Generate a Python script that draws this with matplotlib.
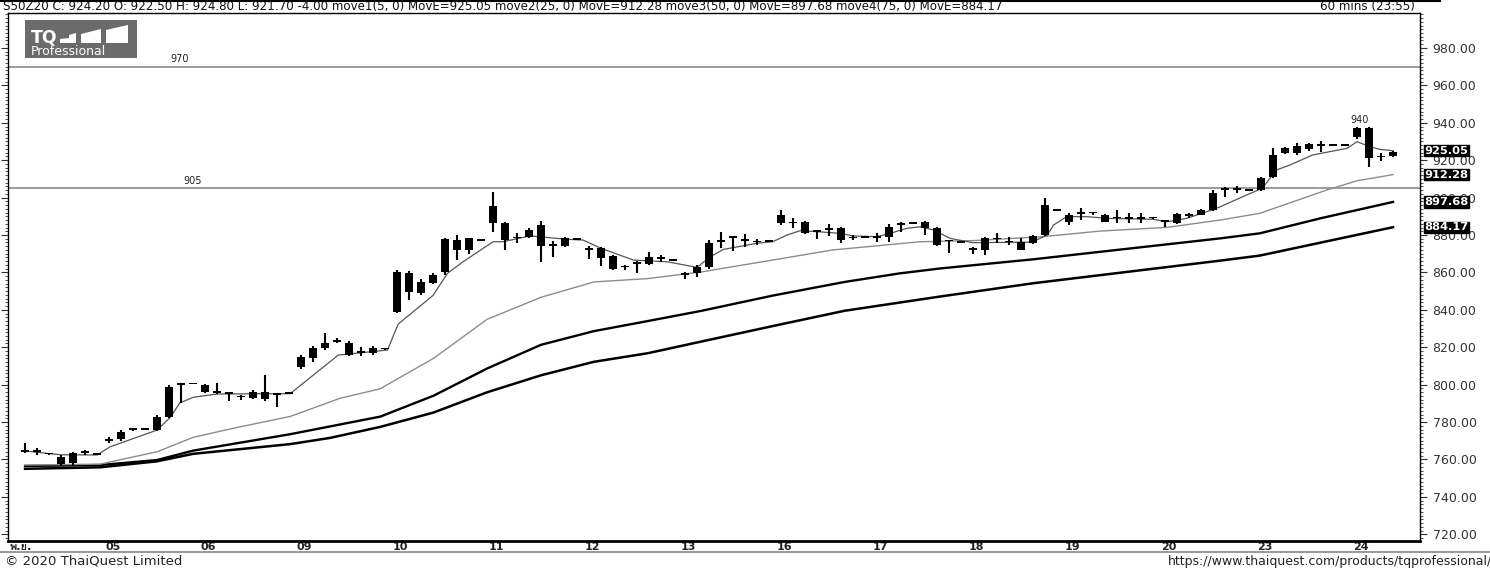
import matplotlib
matplotlib.use("Agg")
import matplotlib.pyplot as plt
import matplotlib.transforms as mtransforms
from matplotlib import font_manager
from matplotlib.ft2font import FT2Font
from matplotlib.patches import Rectangle, Polygon
from matplotlib.lines import Line2D
from matplotlib.ticker import MultipleLocator, FormatStrFormatter

# ---- data: S50Z20, 60 min bars, bar 0 = first visible bar on 04 Nov ----
opens = [765, 764.5, 763.2, 761.5, 758, 763.6, 762.5, 770, 770.7, 775.8,
         776, 775.7, 782.5, 800.3, 800.3, 799.8, 796, 795.5, 793.5, 792.7,
         792.1, 795, 795, 809.6, 814.1, 819.4, 823, 822, 817.5, 816.7,
         818.9, 839.0, 859.5, 848.8, 854.2, 860.4, 877.3, 872.0, 876.8, 886.3,
         886.6, 878.5, 879.1, 885.3, 874.5, 874.1, 877.3, 872.3, 872.9, 868.8,
         862.7, 864.5, 864.5, 867.2, 866.1, 858.6, 859.5, 862.7, 876.4, 878.6,
         877.0, 876.1, 876.4, 886.3, 886.3, 887.1, 881.8, 882.7, 883.6, 878.2,
         878.6, 878.6, 879.1, 885.3, 886.1, 887.1, 883.6, 876.8, 875.8, 872.0,
         872.0, 877.7, 876.1, 876.4, 875.6, 880.0, 893.0, 886.8, 891.2, 891.6,
         890.7, 888.9, 888.6, 888.6, 888.9, 887.1, 886.3, 890.3, 890.7, 893.4,
         904.1, 904.1, 903.7, 904.1, 911.2, 924.0, 923.7, 925.8, 927.6, 927.6,
         927.6, 932.2, 937.1, 921.6, 922.5]
highs = [769, 766, 763.6, 762.4, 764, 765, 762.6, 771.8, 775.5, 777,
         776.3, 783.7, 799.8, 800.5, 800.4, 800.2, 800.7, 796, 794.5, 797,
         805.1, 795.5, 795.2, 815.8, 820.6, 827.8, 824.8, 823.3, 820.3, 820.6,
         819.1, 861.3, 860.5, 856.3, 859.5, 878.2, 880.0, 878.5, 877, 903.2,
         887.1, 881.2, 883.6, 887.6, 876.8, 878.8, 877.5, 874.1, 873.5, 869.3,
         864.0, 866.3, 871.1, 869.3, 866.3, 860.4, 864.0, 877.3, 881.8, 879.1,
         880.4, 877.7, 876.6, 893.4, 888.9, 887.6, 882.0, 885.7, 884.4, 880.0,
         878.8, 880.9, 885.7, 887.1, 886.3, 887.6, 884.4, 877.0, 876.0, 873.8,
         879.1, 881.2, 879.1, 878.2, 880.0, 899.6, 893.2, 891.6, 894.3, 892.5,
         891.5, 893.4, 891.6, 891.6, 889.1, 888.0, 891.9, 891.9, 893.8, 904.1,
         905.5, 906.2, 903.9, 911.2, 926.4, 927.2, 929.4, 929.4, 930.3, 927.8,
         927.8, 937.6, 937.6, 924.0, 924.8]
lows = [763.5, 762.5, 762.5, 756.5, 756.5, 762.4, 762.3, 768.6, 770, 775,
        775.8, 775, 782, 790.3, 800.1, 795.5, 794.8, 791.4, 792, 792.3,
        791.5, 788.2, 794.8, 808.2, 812.0, 818.5, 822, 815.3, 815.3, 815.8,
        818.7, 838.5, 845.2, 847.9, 853.8, 858.6, 866.6, 869.8, 876.6, 881.8,
        872.0, 875.6, 878.5, 865.7, 868.1, 873.5, 877.1, 867.0, 863.4, 861.3,
        861.3, 859.5, 864.0, 865.7, 865.9, 856.3, 857.4, 861.8, 872.9, 871.6,
        873.4, 874.7, 876.2, 885.3, 883.6, 880.5, 877.7, 879.5, 875.9, 877.3,
        878.4, 876.4, 876.4, 881.8, 885.9, 880.0, 874.1, 870.5, 875.6, 869.8,
        869.3, 875.6, 874.7, 872.0, 875.0, 879.5, 892.8, 885.3, 888.0, 890.5,
        887.1, 886.6, 886.6, 886.6, 888.7, 884.4, 886.0, 889.0, 890.5, 893.0,
        900.5, 902.6, 903.5, 903.7, 910.3, 923.3, 923.0, 925.0, 924.5, 927.4,
        927.4, 931.5, 916.5, 919.7, 921.7]
closes = [764, 764, 762.8, 757.5, 763.6, 763.8, 762.4, 770.6, 774.8, 776.3,
          776.1, 782.5, 798.6, 800, 800.2, 795.9, 795.5, 795, 793.2, 795.9,
          796.2, 794.6, 795, 814.9, 819.4, 822.4, 823.3, 815.8, 817.1, 819.7,
          818.9, 860.4, 849.7, 855.0, 858.6, 877.7, 872.0, 878.2, 876.8, 895.5,
          877.3, 878.2, 882.7, 874.1, 874.1, 878.2, 877.3, 872.0, 867.5, 861.7,
          862.9, 864.7, 868.4, 867.4, 866.1, 858.8, 863.1, 875.6, 876.6, 878.4,
          877.2, 876.3, 876.4, 890.7, 886.5, 881.2, 881.6, 882.9, 877.3, 878.4,
          878.6, 878.8, 884.4, 885.5, 886.1, 883.6, 874.7, 876.6, 875.8, 872.2,
          878.2, 877.9, 876.3, 872.0, 879.5, 896.0, 893.0, 890.7, 891.4, 891.8,
          887.1, 889.1, 888.8, 888.8, 888.9, 887.3, 891.1, 890.5, 893.4, 902.3,
          904.3, 904.3, 903.7, 910.3, 922.8, 926.7, 927.6, 928.5, 927.8, 927.6,
          927.6, 937.1, 921.0, 921.8, 924.2]

# moving averages (bar position, value)
ma5_pos = [0, 3, 6, 7.1, 11, 12.1, 12.9, 14, 16, 22.1, 26.1, 30.2, 31.1, 34,
           35.2, 36.5, 39, 39.8, 42.1, 45.2, 46.5, 48, 50.7, 53.5, 56, 57.1,
           58.2, 61, 62.3, 63.5, 64.6, 66, 67.9, 69, 71, 72.1, 73.5, 74.6,
           75.7, 77.1, 79, 83.9, 85.2, 85.7, 86.8, 88.5, 90.2, 94, 95.2, 96.8,
           98.5, 99.6, 101.8, 103.1, 104.3, 105.4, 107.3, 110.2, 111, 112.1,
           112.9, 114]
ma5_val = [764.5, 762.5, 762.4, 766.8, 775.7, 782.5, 790.2, 793.2, 795.0,
           795.2, 815.8, 818.5, 832.4, 847.7, 859.5, 865.7, 876.4, 876.4,
           879.5, 877.7, 877.3, 872.9, 866.6, 865.7, 862.7, 868.4, 872.3,
           875.6, 876.4, 880.0, 882.3, 881.8, 880.9, 879.5, 879.1, 880.9,
           883.6, 884.4, 882.7, 878.2, 875.9, 876.2, 880.0, 885.3, 889.8,
           889.8, 888.9, 888.4, 887.1, 888.9, 892.5, 895.1, 901.4, 905.0,
           914.8, 917.4, 922.8, 926.4, 929.9, 927.2, 925.8, 925.05]
ma25_pos = [0, 6.25, 11, 14, 17.3, 22.1, 26.25, 29.6, 34.05, 38.5, 43, 47.4,
            51.9, 56.4, 62.3, 67.3, 74.6, 79, 84.8, 89.6, 95.2, 99.6, 102.9,
            108.5, 111, 114]
ma25_val = [757.0, 757.5, 764.1, 771.8, 776.6, 783.0, 792.7, 797.8, 814.1,
            834.9, 846.7, 854.9, 856.7, 860.3, 866.6, 872.0, 876.4, 877.0,
            879.1, 882.1, 884.1, 888.0, 891.6, 904.1, 909.0, 912.28]
ma50_pos = [0, 6.25, 11, 14, 22.1, 29.6, 34.05, 38.5, 43, 47.4, 51.9, 56.4,
            62.3, 68.3, 72.9, 76.25, 84, 99.6, 102.9, 108, 114]
ma50_val = [756.5, 757.0, 759.7, 764.7, 773.5, 782.9, 794.1, 808.6, 821.3,
            828.6, 834.0, 839.5, 847.6, 854.9, 859.5, 862.1, 867.0, 878.2,
            880.9, 889.0, 897.68]
ma75_pos = [0, 6.25, 11, 14, 22.1, 25.4, 29.6, 34.05, 38.5, 43, 47.4, 51.9,
            56.4, 62.3, 68.3, 76.25, 84, 99.6, 102.9, 114]
ma75_val = [755.0, 755.8, 759.0, 763.0, 768.2, 771.5, 777.4, 785.1, 795.9,
            805.0, 812.2, 816.8, 823.1, 831.3, 839.5, 847.1, 854.2, 866.3,
            869.0, 884.17]

day_labels = ["พ.ย.", "05", "06", "09", "10", "11", "12", "13", "16", "17",
              "18", "19", "20", "23", "24"]
levels = [970, 905]
last_ma_val = [925.05, 912.28, 897.68, 884.17]

header = ("S50Z20 C: 924.20 O: 922.50 H: 924.80 L: 921.70 -4.00 move1(5, 0) "
          "MovE=925.05 move2(25, 0) MovE=912.28 move3(50, 0) MovE=897.68 "
          "move4(75, 0) MovE=884.17")


def find_family(ch):
    # first installed font that has a glyph for ch
    for f in font_manager.fontManager.ttflist:
        try:
            if ord(ch) in FT2Font(f.fname).get_charmap():
                return f.name
        except Exception:
            continue
    return None


thai = find_family("พ")
xfam = ["DejaVu Sans"] + ([thai] if thai else [])

W, H = 1490, 570
fig = plt.figure(figsize=(W / 100, H / 100), dpi=100)
ax = fig.add_axes([8 / W, 1 - 541 / H, (1420 - 8) / W, (541 - 13) / H])

n = len(closes)
assert len(opens) == n and len(highs) == n and len(lows) == n
idx = list(range(n))

# moving averages
ax.plot(ma75_pos, ma75_val, color="black", lw=1.8, zorder=2)
ax.plot(ma50_pos, ma50_val, color="black", lw=1.7, zorder=2)
ax.plot(ma25_pos, ma25_val, color="#8c8c8c", lw=1.0, zorder=2)
ax.plot(ma5_pos, ma5_val, color="#555555", lw=0.9, zorder=2)

# candles
ax.vlines(idx, lows, highs, color="black", lw=1.5, zorder=3)
bottoms = [min(o, c) for o, c in zip(opens, closes)]
heights = [max(abs(c - o), 0.9) for o, c in zip(opens, closes)]
ax.bar(idx, heights, bottom=bottoms, width=0.62, color="black", zorder=4)

# horizontal levels
for lv in levels:
    ax.axhline(lv, color="#808080", lw=1.1, zorder=1)
ax.text(12.9, 971.3, "970", fontsize=7, ha="center", va="bottom", color="#222")
ax.text(14.0, 906.3, "905", fontsize=7, ha="center", va="bottom", color="#222")
ax.text(111.2, 938.8, "940", fontsize=7, ha="center", va="bottom", color="#222")

ax.set_xlim(-1.42, 116.25)
ax.set_ylim(716.4, 998.7)

# right price axis
ax.yaxis.set_major_locator(MultipleLocator(20))
ax.yaxis.set_minor_locator(MultipleLocator(2))
ax.yaxis.set_major_formatter(FormatStrFormatter("%.2f"))
ax.tick_params(axis="y", which="both", left=True, right=True, labelleft=False,
               labelright=True, direction="out", colors="#333333", labelsize=9)
ax.tick_params(axis="y", which="major", length=5, pad=4)
ax.tick_params(axis="y", which="minor", length=2.5)

# last values of the averages, boxed on the price axis
blend = mtransforms.blended_transform_factory(ax.transAxes, ax.transData)
for v in last_ma_val:
    ax.text(1.003, v, "%.2f" % v, transform=blend, fontsize=8.2, color="white",
            fontweight="bold", va="center", ha="left",
            bbox=dict(facecolor="black", edgecolor="black", pad=0.5), zorder=6, clip_on=False)

# x axis (day labels)
tick_pos = [-1.3] + [8 * k - 0.7 for k in range(1, len(day_labels))]
ax.set_xticks(tick_pos)
ax.set_xticklabels(day_labels, fontsize=8, color="#222", fontweight="bold", family=xfam)
ax.get_xticklabels()[0].set_horizontalalignment("left")
ax.tick_params(axis="x", length=0, pad=0.5)

for s in ["left", "right", "top"]:
    ax.spines[s].set_linewidth(1.0)
ax.spines["bottom"].set_linewidth(2.0)

# header bar
fig.text(3 / W, 1 - 6.5 / H, header, fontsize=8.6, va="center", ha="left", color="#111")
fig.text(1320 / W, 1 - 6.5 / H, "60 mins (23:55)", fontsize=8.6, va="center", ha="left", color="#111")
fig.add_artist(Line2D([0, 1440 / W], [1 - 0.8 / H] * 2, color="black", lw=1.5))
fig.add_artist(Line2D([0, 1], [1 - 552 / H] * 2, color="#888888", lw=1.2))

# logo
fig.add_artist(Rectangle((25 / W, 1 - 58 / H), 112 / W, 38 / H, transform=fig.transFigure,
                         facecolor="#6b6b6b", edgecolor="none"))
fig.text(31 / W, 1 - 37.5 / H, "TQ", fontsize=12.5, fontweight="bold", color="white",
         va="center", ha="left")
icon = [[(60, 43), (76, 43), (76, 33), (69, 35), (69, 38), (60, 39)],
        [(81, 43), (101, 43), (101, 29), (81, 34)],
        [(106, 43), (128, 43), (128, 25), (106, 30)]]
for shape in icon:
    pts = [(px / W, 1 - py / H) for px, py in shape]
    fig.add_artist(Polygon(pts, closed=True, transform=fig.transFigure,
                           facecolor="white", edgecolor="none"))
fig.text(31 / W, 1 - 51.5 / H, "Professional", fontsize=9, color="white",
         va="center", ha="left")

# footer
fig.text(5 / W, 1 - 561 / H, "\u00a9 2020 ThaiQuest Limited", fontsize=9.5, color="#222",
         va="center", ha="left")
fig.text(1492 / W, 1 - 562 / H, "https://www.thaiquest.com/products/tqprofessional/",
         fontsize=9, color="#222", va="center", ha="right")

fig.savefig("out.png", dpi=100, facecolor="white")
